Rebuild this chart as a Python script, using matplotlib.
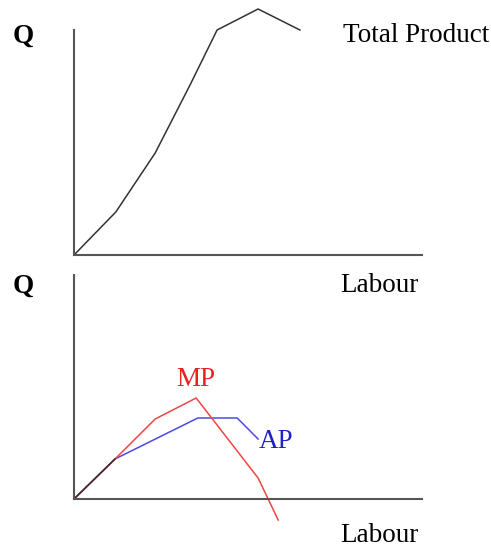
import matplotlib.pyplot as plt

plt.rcParams['font.family'] = ['Liberation Serif', 'DejaVu Serif']

# labour input and output levels
tp_labour = [0, 1.02, 1.98, 2.83, 3.49, 4.49, 5.51]
tp_q = [0, 4.3, 10.2, 17.0, 22.5, 24.6, 22.5]

mp_labour = [0, 1.0, 1.98, 2.98, 4.49, 4.98]
mp_q = [0, 4.0, 8.0, 10.1, 2.1, -2.1]

ap_labour = [0, 1.0, 3.02, 3.98, 4.49]
ap_q = [0, 4.0, 8.1, 8.1, 6.0]

W, H = 491, 547
fig = plt.figure(figsize=(W / 100, H / 100), dpi=100)

axis_col = '#555555'
fs = 19.5


def make_axes(top_px, bottom_px, ymin, ymax, spine_top):
    ax = fig.add_axes([74 / W, 1 - bottom_px / H, 348 / W, (bottom_px - top_px) / H])
    ax.set_xlim(0, 348 / 41)
    ax.set_ylim(ymin, ymax)
    for s in ['top', 'right']:
        ax.spines[s].set_visible(False)
    ax.spines['left'].set_bounds(0, spine_top)
    ax.spines['bottom'].set_position(('data', 0))
    for s in ['left', 'bottom']:
        ax.spines[s].set_color(axis_col)
        ax.spines[s].set_linewidth(1.5)
    ax.set_xticks([])
    ax.set_yticks([])
    ax.patch.set_visible(False)
    return ax


# total product
ax1 = make_axes(5, 255, 0, 25, 22.5)
ax1.plot(tp_labour, tp_q, color='#333333', lw=1.1, clip_on=False)

# marginal and average product
ax2 = make_axes(275, 525, -2.6, 22.4, 22.4)
ax2.plot(ap_labour, ap_q, color='#4a4ae6', lw=1.1, clip_on=False)
ax2.plot(mp_labour, mp_q, color='#f04545', lw=1.1, clip_on=False)
ax2.plot(mp_labour[:2], mp_q[:2], color='#3a2a2a', lw=1.1)
ax2.text(2.98, 12.0, 'MP', color='#e82020', fontsize=fs, ha='center', va='center')
ax2.text(4.51, 5.7, 'AP', color='#2020c8', fontsize=fs, ha='left', va='center')

fig.text(23 / W, 1 - 36 / H, 'Q', fontsize=fs, fontweight='bold', ha='center', va='center')
fig.text(343 / W, 1 - 36 / H, 'Total Product', fontsize=fs, ha='left', va='center')
fig.text(23 / W, 1 - 286 / H, 'Q', fontsize=fs, fontweight='bold', ha='center', va='center')
fig.text(340 / W, 1 - 285 / H, 'Labour', fontsize=fs, ha='left', va='center')
fig.text(340 / W, 1 - 536 / H, 'Labour', fontsize=fs, ha='left', va='center')

fig.savefig('out.png', dpi=100)
